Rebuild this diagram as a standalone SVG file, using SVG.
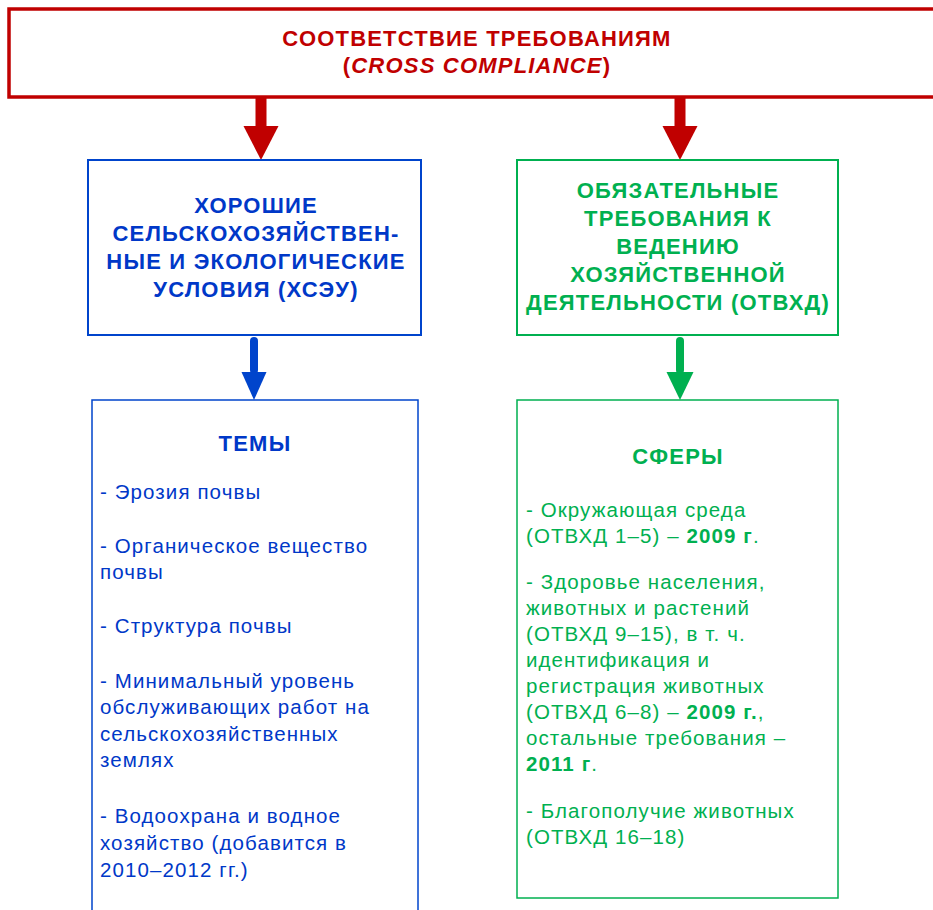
<svg xmlns="http://www.w3.org/2000/svg" width="933" height="910" viewBox="0 0 933 910">
<style>
text{font-family:"Liberation Sans",Arial,sans-serif}
.red{fill:#c00000}
.blue{fill:#0038c8}
.green{fill:#00b050}
.h{font-weight:bold;font-size:22px;letter-spacing:1.2px;text-anchor:middle}
.t{font-size:20.5px;letter-spacing:1.1px}
.b{font-weight:bold}
</style>
<rect width="933" height="910" fill="#ffffff"/>
<g id="top">
<rect x="9" y="9" width="940" height="88" fill="#ffffff" stroke="#c00000" stroke-width="3.5"/>
<text class="h red" x="477" y="46" font-size="23" letter-spacing="1.1">СООТВЕТСТВИЕ ТРЕБОВАНИЯМ</text>
<text class="h red" x="477" y="73" font-size="23" letter-spacing="1.1">(<tspan font-style="italic">CROSS COMPLIANCE</tspan>)</text>
</g>
<g id="connectors">
<rect x="255.5" y="97" width="11" height="30" fill="#c00000"/>
<polygon points="243.5,126 278.5,126 261,160" fill="#c00000"/>
<rect x="674.5" y="97" width="11" height="30" fill="#c00000"/>
<polygon points="662.5,126 697.5,126 680,160" fill="#c00000"/>
<rect x="250" y="337" width="8" height="37" rx="4" fill="#0044cc"/>
<polygon points="241.5,372 266.5,372 254,400" fill="#0044cc"/>
<rect x="676" y="337" width="8" height="37" rx="4" fill="#00b050"/>
<polygon points="666.5,372 693.5,372 680,400" fill="#00b050"/>
</g>
<g id="hseu">
<rect x="88" y="160" width="333" height="175" fill="#ffffff" stroke="#0044cc" stroke-width="2"/>
<text class="h blue" x="256" y="213">ХОРОШИЕ</text>
<text class="h blue" x="256" y="241">СЕЛЬСКОХОЗЯЙСТВЕН-</text>
<text class="h blue" x="256" y="269">НЫЕ И ЭКОЛОГИЧЕСКИЕ</text>
<text class="h blue" x="256" y="297">УСЛОВИЯ (ХСЭУ)</text>
</g>
<g id="otvhd">
<rect x="517" y="160" width="321" height="175" fill="#ffffff" stroke="#00b050" stroke-width="2"/>
<text class="h green" x="678" y="198">ОБЯЗАТЕЛЬНЫЕ</text>
<text class="h green" x="678" y="226">ТРЕБОВАНИЯ К</text>
<text class="h green" x="678" y="254">ВЕДЕНИЮ</text>
<text class="h green" x="678" y="282">ХОЗЯЙСТВЕННОЙ</text>
<text class="h green" x="678" y="310">ДЕЯТЕЛЬНОСТИ (ОТВХД)</text>
</g>
<g id="temy">
<rect x="92" y="400" width="326" height="520" fill="#ffffff" stroke="#0044cc" stroke-width="1.5"/>
<text class="h blue" x="255" y="451" font-size="21" letter-spacing="1">ТЕМЫ</text>
<text class="t blue" x="100" y="499">- Эрозия почвы</text>
<text class="t blue" x="100" y="553">- Органическое вещество</text>
<text class="t blue" x="100" y="579">почвы</text>
<text class="t blue" x="100" y="633">- Структура почвы</text>
<text class="t blue" x="100" y="688">- Минимальный уровень</text>
<text class="t blue" x="100" y="714">обслуживающих работ на</text>
<text class="t blue" x="100" y="741">сельскохозяйственных</text>
<text class="t blue" x="100" y="767">землях</text>
<text class="t blue" x="100" y="823">- Водоохрана и водное</text>
<text class="t blue" x="100" y="850">хозяйство (добавится в</text>
<text class="t blue" x="100" y="877">2010–2012 гг.)</text>
</g>
<g id="sfery">
<rect x="517" y="400" width="321" height="498" fill="#ffffff" stroke="#00b050" stroke-width="1.5"/>
<text class="h green" x="678" y="464" font-size="21" letter-spacing="1">СФЕРЫ</text>
<text class="t green" x="526" y="517">- Окружающая среда</text>
<text class="t green" x="526" y="543">(ОТВХД 1–5) – <tspan class="b">2009 г</tspan>.</text>
<text class="t green" x="526" y="589">- Здоровье населения,</text>
<text class="t green" x="526" y="615">животных и растений</text>
<text class="t green" x="526" y="641">(ОТВХД 9–15), в т. ч.</text>
<text class="t green" x="526" y="667">идентификация и</text>
<text class="t green" x="526" y="693">регистрация животных</text>
<text class="t green" x="526" y="719">(ОТВХД 6–8) – <tspan class="b">2009 г.</tspan>,</text>
<text class="t green" x="526" y="745">остальные требования –</text>
<text class="t green" x="526" y="771"><tspan class="b">2011 г</tspan>.</text>
<text class="t green" x="526" y="818">- Благополучие животных</text>
<text class="t green" x="526" y="844">(ОТВХД 16–18)</text>
</g>
</svg>
